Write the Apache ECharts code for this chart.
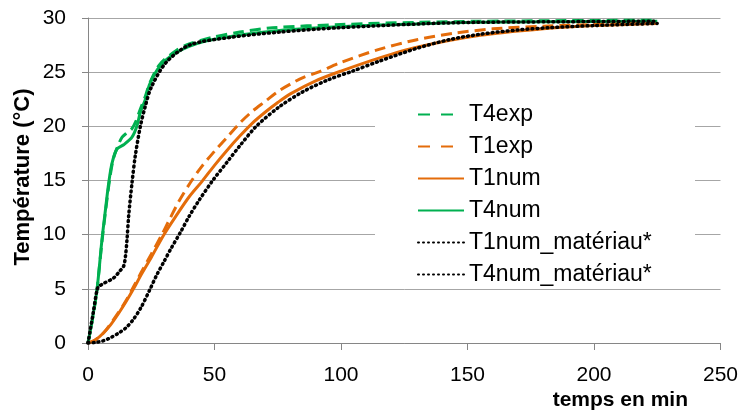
<!DOCTYPE html>
<html>
<head>
<meta charset="utf-8">
<script src="https://cdn.jsdelivr.net/npm/echarts@6/dist/echarts.min.js"></script>
<style>html,body{margin:0;padding:0;background:#fff}#c{width:741px;height:412px}</style>
</head>
<body>
<div id="c"></div>
<script>
// time (min) / temperature (°C) pairs
const T4exp = [[0,0],[1,1.2],[2,2.5],[3.5,4.8],[5.5,9.3],[7,12.3],[8.5,15],[10,17.0],[12,18.3],[13.5,19.0],[15.4,19.4],[17.4,19.8],[19,20.5],[20.7,21.6],[22.7,22.8],[24.4,24.0],[28.3,25.7],[34.9,27.0],[40,27.6],[49,28.2],[60,28.7],[73,29.1],[100,29.4],[130,29.6],[155,29.7],[182,29.75],[225,29.8]];
const T1exp = [[0,0],[3,0.3],[6,0.9],[9,1.8],[12,2.8],[15,3.9],[18,5.2],[21,6.5],[25,8.2],[29.2,10],[32,11.3],[36,13.1],[41,15.0],[45,16.3],[50,17.7],[55,19.0],[60,20.3],[65,21.4],[70,22.3],[75,23.2],[80,23.9],[85,24.5],[91,25.0],[100,25.9],[115,27.1],[130,28.0],[145,28.6],[160,29.0],[180,29.25],[200,29.4],[225,29.5]];
const T1num = [[0,0],[3,0.3],[6,0.9],[9,1.7],[12,2.7],[15,3.8],[18,5.0],[21,6.3],[25,7.9],[30,10.0],[35,11.8],[40,13.5],[45,14.9],[50,16.4],[55,17.8],[60,19.1],[65,20.3],[70,21.3],[75,22.2],[80,23.0],[90,24.2],[100,25.1],[115,26.3],[130,27.3],[155,28.4],[180,29.0],[200,29.3],[225,29.5]];
const T4num = [[0,0],[1,1.2],[2,2.6],[3.55,4.9],[5.5,9.5],[6.9,12.3],[8.2,14.8],[9.5,16.6],[11.4,17.9],[14.1,18.3],[17.4,19.0],[19.3,20.0],[20.7,21.3],[22.7,22.5],[24.4,23.9],[28.3,25.5],[34.9,26.8],[45.4,27.8],[62.5,28.5],[75.7,28.85],[100,29.2],[115,29.35],[142.8,29.55],[155,29.6],[182,29.65],[225,29.7]];
const T1num_mat = [[0,0],[3,0.05],[6,0.2],[9,0.5],[12,0.9],[15,1.4],[18,2.2],[21,3.3],[24.6,5.0],[27,6.2],[30,7.5],[33,8.8],[36.5,10.2],[40,11.7],[43.7,13.1],[49.3,15.0],[55,16.7],[60,18.2],[66.5,20.0],[75.6,21.8],[85,23.2],[95,24.3],[104.6,25.1],[115,26.0],[130,27.2],[142.8,28.0],[155,28.5],[170,28.9],[182,29.1],[200,29.3],[225,29.5]];
const T4num_mat = [[0,0],[2,2.7],[3.55,4.9],[4.2,5.2],[6.2,5.5],[10.1,6.0],[12.8,6.7],[14.1,7.1],[14.8,8.0],[15.4,9.5],[16.1,11.8],[17.4,14.8],[18.7,17.3],[20.7,20.0],[22.7,21.9],[25,23.6],[30.9,25.9],[40.1,27.5],[55.9,28.2],[75.7,28.7],[99.4,29.1],[142.8,29.55],[182,29.65],[225,29.7]];
const xTicks = {min:0, max:250, interval:50};
const yTicks = {min:0, max:30, interval:5};
const names = ['T4exp','T1exp','T1num','T4num','T1num_matériau*','T4num_matériau*'];

const GREEN = '#00B050', ORANGE = '#E46C0A', BLACK = '#000000';
const FONT = 'Liberation Sans';
const chart = echarts.init(document.getElementById('c'), null, {renderer:'canvas'});
function ser(name, data, color, type, width, z, cap) {
  return {name, type:'line', data, symbol:'none', smooth:0.3, z: z,
    lineStyle:{color, width, type, cap: cap || 'butt'},
    itemStyle:{color}, animation:false};
}
chart.setOption({
  animation:false,
  grid:{left:88, right:20, top:18, bottom:69, containLabel:false},
  xAxis:{type:'value', min:xTicks.min, max:xTicks.max, interval:xTicks.interval,
    axisLine:{lineStyle:{color:'#868686', width:1}},
    axisTick:{show:true, inside:false, length:7, lineStyle:{color:'#868686'}},
    axisLabel:{color:'#000', fontFamily:FONT, fontSize:21, margin:22},
    splitLine:{show:false}},
  yAxis:{type:'value', min:yTicks.min, max:yTicks.max, interval:yTicks.interval,
    axisLine:{show:true, lineStyle:{color:'#868686', width:1}},
    axisTick:{show:true, inside:false, length:6, lineStyle:{color:'#868686'}},
    axisLabel:{color:'#000', fontFamily:FONT, fontSize:21, margin:22},
    splitLine:{show:true, lineStyle:{color:'#A6A6A6', width:1}}},
  legend:{orient:'vertical', left:417, top:103, itemWidth:46, itemHeight:14, itemGap:9, padding:0,
    itemStyle:{opacity:0},
    textStyle:{fontFamily:FONT, fontSize:23, color:'#000', lineHeight:22},
    data:[
      {name:names[0], lineStyle:{type:[12,11]}},
      {name:names[1], lineStyle:{type:[12,11]}},
      {name:names[2]},
      {name:names[3]},
      {name:names[4]},
      {name:names[5]}
    ]},
  graphic:[
    {type:'rect', z:1, shape:{x:375, y:74, width:320, height:213}, style:{fill:'#fff'}, silent:true},
    {type:'text', z:5, x:23, y:177, rotation:Math.PI/2,
      style:{text:'Température (°C)', font:'bold 22px "Liberation Sans"', fill:'#000', textAlign:'center', textVerticalAlign:'middle'}},
    {type:'text', z:5, x:688, y:400,
      style:{text:'temps en min', font:'bold 21px "Liberation Sans"', fill:'#000', textAlign:'right', textVerticalAlign:'middle'}}
  ],
  series:[
    ser(names[2], T1num, ORANGE, 'solid', 3, 3),
    ser(names[3], T4num, GREEN, 'solid', 3, 3),
    ser(names[0], T4exp, GREEN, [11,6], 3, 4),
    ser(names[1], T1exp, ORANGE, [11,6], 3, 4),
    ser(names[4], T1num_mat, BLACK, [1,4], 3.5, 5, 'round'),
    ser(names[5], T4num_mat, BLACK, [1,4], 3.5, 5, 'round')
  ]
});
</script>
</body>
</html>
